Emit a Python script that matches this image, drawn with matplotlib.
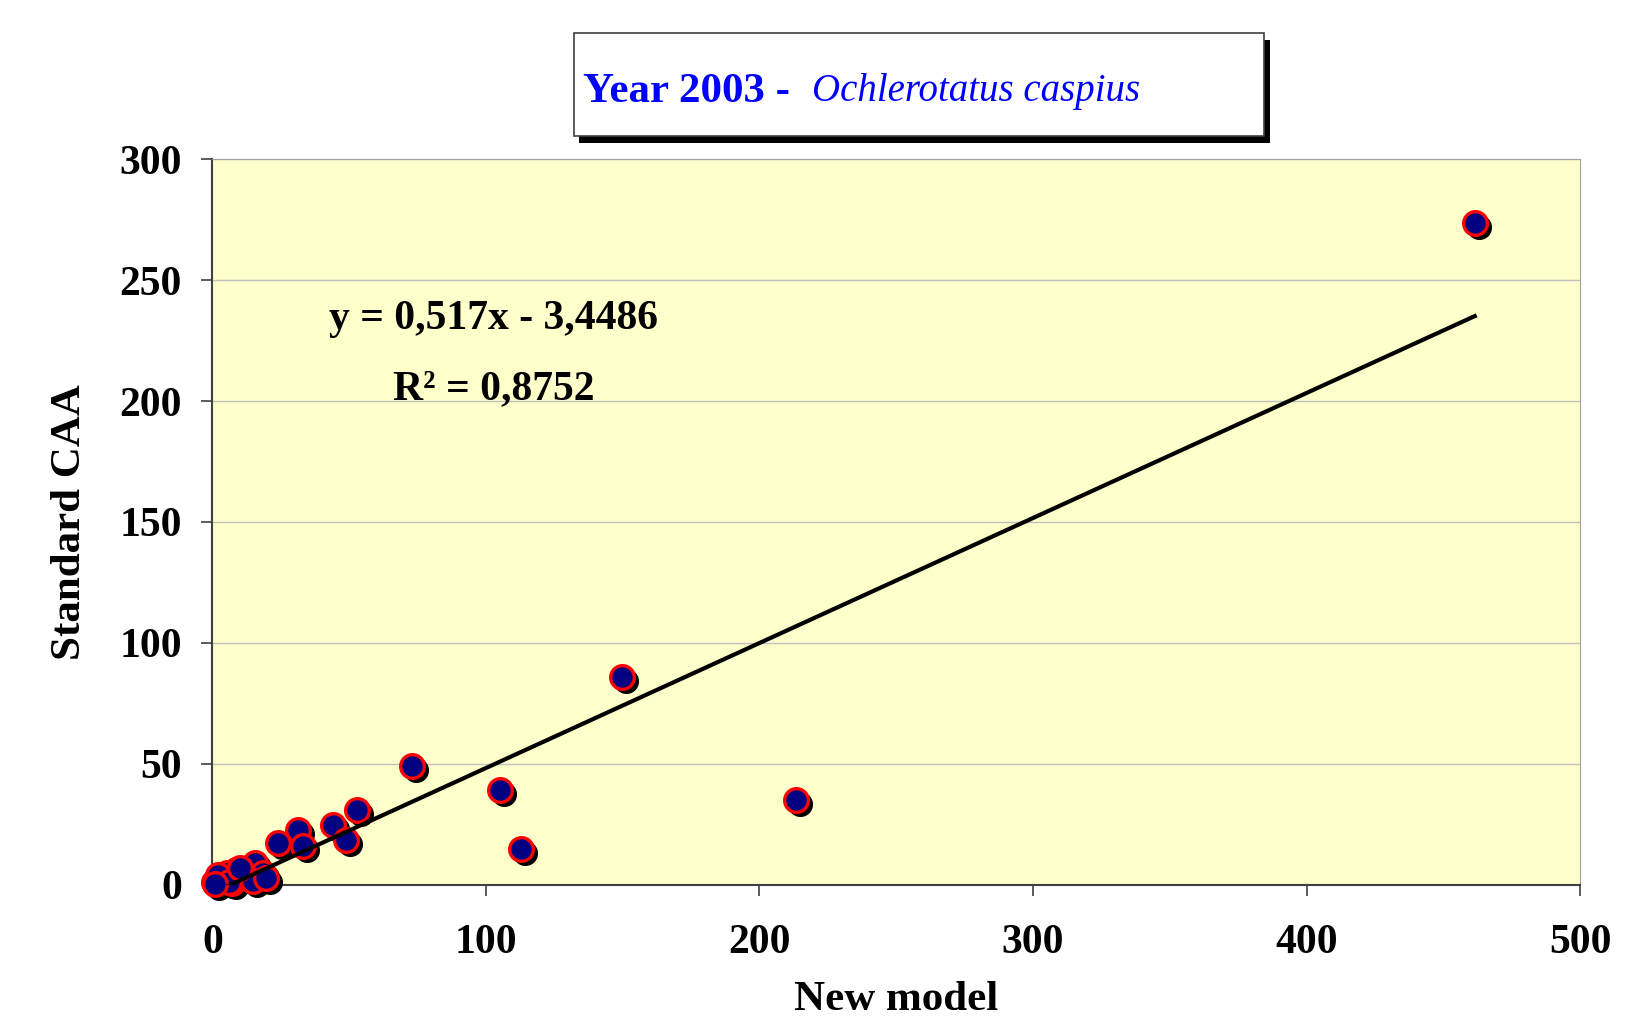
"""Scatter of standard CAA vs new model estimates with linear trendline (2003, Ochlerotatus caspius)."""

import matplotlib.pyplot as plt
import matplotlib.transforms as mtransforms
import numpy as np

# Values
new_model = [461.5, 149.8, 213.4, 72.8, 105.2, 112.8, 53.0, 44.2, 48.8, 31.2,
             33.0, 24.0, 15.6, 18.4, 8.8, 5.3, 0.5, 3.0, 7.0, 11.0,
             15.0, 19.5, 2.0, 6.0, 10.0, 1.0]
standard_caa = [273.7, 85.8, 34.9, 49.1, 39.2, 14.7, 31.0, 24.6, 18.5, 22.8,
                16.0, 17.2, 9.0, 4.8, 6.0, 4.7, 1.3, 2.5, 0.5, 3.0,
                1.5, 2.6, 4.0, 1.0, 7.0, 0.2]
slope = 0.517
intercept = -3.4486
r2 = 0.8752

x_ticks = [0, 100, 200, 300, 400, 500]
y_ticks = [0, 50, 100, 150, 200, 250, 300]

plt.rcParams['font.family'] = ['Liberation Serif', 'DejaVu Serif']

fig = plt.figure(figsize=(16.34, 10.21), dpi=100)
ax = fig.add_axes([0.130, 0.1335, 0.837, 0.7105])
ax.set_facecolor('#ffffcc')

# Shadow under every marker
shadow = mtransforms.offset_copy(ax.transData, fig=fig, x=4, y=-4, units='dots')
ax.scatter(new_model, standard_caa, s=290, color='black', transform=shadow,
           zorder=3, clip_on=False)
ax.scatter(new_model, standard_caa, s=290, facecolor='#000080', edgecolor='red',
           linewidth=2.4, zorder=4, clip_on=False)

# Linear trendline (clipped at y = 0 by the axes)
xs = np.array([min(new_model), max(new_model)])
ax.plot(xs, slope * xs + intercept, color='black', linewidth=3, zorder=5)

ax.set_xlim(0, 500)
ax.set_ylim(0, 300)
ax.set_xticks(x_ticks)
ax.set_yticks(y_ticks)
ax.tick_params(axis='both', labelsize=30, length=8, width=1.2, color='#404040')
ax.tick_params(axis='x', pad=20)
ax.tick_params(axis='y', pad=14)
for lab in ax.get_xticklabels() + ax.get_yticklabels():
    lab.set_fontweight('bold')
ax.grid(axis='y', color='#c0c0c0', linewidth=1)
ax.set_axisbelow(True)
for side in ['top', 'right']:
    ax.spines[side].set_color('#a0a0a0')
for side in ['left', 'bottom']:
    ax.spines[side].set_color('#404040')
    ax.spines[side].set_linewidth(1.5)

ax.set_ylabel('Standard CAA', fontsize=31, fontweight='bold', labelpad=22)
ax.set_xlabel('New model', fontsize=31, fontweight='bold', labelpad=14)

# Equation of the trendline
ax.text(0.085, 0.78, f"y = {slope:.3f}x - {abs(intercept):.4f}".replace('.', ','),
        transform=ax.transAxes, fontsize=30, fontweight='bold', ha='left', va='center')
ax.text(0.132, 0.683, f"R\u00b2 = {r2:.4f}".replace('.', ','),
        transform=ax.transAxes, fontsize=30, fontweight='bold', ha='left', va='center')

# Title box with shadow
fig.patches.append(plt.Rectangle((0.3545, 0.860), 0.4225, 0.101, transform=fig.transFigure,
                                 facecolor='black', edgecolor='none', zorder=1))
fig.patches.append(plt.Rectangle((0.3513, 0.867), 0.4225, 0.101, transform=fig.transFigure,
                                 facecolor='white', edgecolor='#404040', linewidth=1.2, zorder=2))
t1 = fig.text(0.357, 0.910, "Year 2003 -  ", fontsize=31, fontweight='bold', color='#0000ff',
              ha='left', va='center', zorder=3)
fig.canvas.draw()
bb = t1.get_window_extent()
x_end = fig.transFigure.inverted().transform((bb.x1, bb.y0))[0]
fig.text(x_end, 0.910, "Ochlerotatus caspius", fontsize=28, style='italic', color='#0000ff',
         ha='left', va='center', zorder=3)

fig.savefig('out.png', dpi=100)
